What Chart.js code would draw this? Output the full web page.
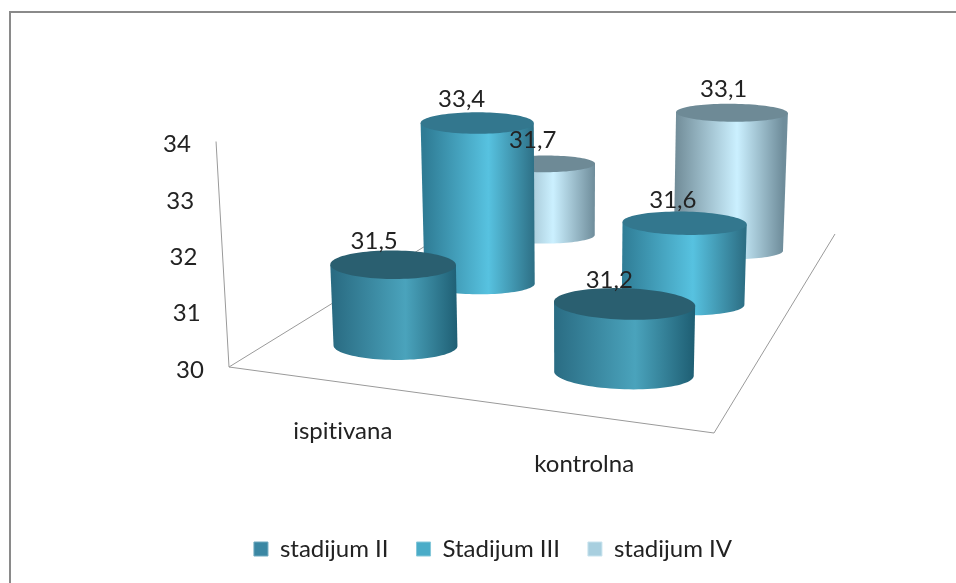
<!DOCTYPE html>
<html>
<head>
<meta charset="utf-8">
<title>stadijum</title>
<script src="https://cdn.jsdelivr.net/npm/chart.js@4"></script>
<style>
  html, body { margin: 0; padding: 0; background: #fff; }
  canvas { display: block; }
</style>
</head>
<body>
<canvas id="chart" width="956" height="583"></canvas>
<script>
const categories = ['ispitivana', 'kontrolna'];
const seriesNames = ['stadijum II', 'Stadijum III', 'stadijum IV'];
const stadijum2 = [31.5, 31.2];
const stadijum3 = [33.4, 31.6];
const stadijum4 = [31.7, 33.1];
const legendColors = ['#3b87a3', '#4aacc8', '#a8cfdf'];

// floor of the 3D box on screen: front left, front right, back right, back left
const floorA = [229, 367], floorB = [714, 433], floorC = [835, 234], floorD = [487, 208];
const radiusU = 0.14, radiusV = 0.06;
const shiftU = 0.016, shiftV = -0.003;
const leanX = 571, leanD = 5950;
const heightK = 0.99;
const untilt = 0.05;

const sideStops = [
    ['#2a6c83', '#4aa3bc', '#1f5f74'],
    ['#2f7c95', '#57c2e0', '#2d6f85'],
    ['#6f8a96', '#cbf0ff', '#6f8d9b'],
];
const topColors = ['#2a5f70', '#33778e', '#6e8a96'];
const textFont = '24px Lato';
const textColor = '#222';

// unit square -> screen, perspective
function makeFloor() {
    const dx1 = floorB[0] - floorC[0], dx2 = floorD[0] - floorC[0];
    const dy1 = floorB[1] - floorC[1], dy2 = floorD[1] - floorC[1];
    const sx = floorA[0] - floorB[0] + floorC[0] - floorD[0];
    const sy = floorA[1] - floorB[1] + floorC[1] - floorD[1];
    const det = dx1 * dy2 - dx2 * dy1;
    const g = (sx * dy2 - dx2 * sy) / det;
    const h = (dx1 * sy - sx * dy1) / det;
    const a = floorB[0] - floorA[0] + g * floorB[0];
    const b = floorD[0] - floorA[0] + h * floorD[0];
    const d = floorB[1] - floorA[1] + g * floorB[1];
    const e = floorD[1] - floorA[1] + h * floorD[1];
    return (u, v) => {
        const w = g * u + h * v + 1;
        return { x: (a * u + b * v + floorA[0]) / w, y: (d * u + e * v + floorA[1]) / w, w };
    };
}
const floor = makeFloor();

function lift(p, h) {
    return { x: p.x + (p.x - leanX) * h / leanD, y: p.y - h };
}

function tracePoints(ctx, pts) {
    pts.forEach((p, i) => (i ? ctx.lineTo(p.x, p.y) : ctx.moveTo(p.x, p.y)));
}

function drawCylinder(ctx, yScale, u, v, value, row) {
    const center = floor(u, v);
    const h = (yScale.getPixelForValue(30) - yScale.getPixelForValue(value)) * heightK / center.w;
    const base = [];
    for (let i = 0; i < 96; i++) {
        const t = i / 96 * Math.PI * 2;
        const p = floor(u + radiusU * Math.cos(t), v + radiusV * Math.sin(t));
        base.push({ x: p.x, y: p.y - untilt * (p.x - center.x) });
    }
    const top = base.map(p => lift(p, h));
    let iMin = 0, iMax = 0;
    base.forEach((p, i) => {
        if (p.x < base[iMin].x) iMin = i;
        if (p.x > base[iMax].x) iMax = i;
    });
    // walk both ways round the base, keep the arc nearer the viewer
    const arcA = [], arcB = [];
    for (let i = iMin; ; i = (i + 1) % 96) { arcA.push(base[i]); if (i === iMax) break; }
    for (let i = iMin; ; i = (i + 95) % 96) { arcB.push(base[i]); if (i === iMax) break; }
    const mean = arr => arr.reduce((s, p) => s + p.y, 0) / arr.length;
    const lower = mean(arcA) > mean(arcB) ? arcA : arcB;

    const grad = ctx.createLinearGradient(base[iMin].x, 0, base[iMax].x, 0);
    grad.addColorStop(0, sideStops[row][0]);
    grad.addColorStop(0.58, sideStops[row][1]);
    grad.addColorStop(1, sideStops[row][2]);
    ctx.beginPath();
    tracePoints(ctx, [top[iMin]].concat(lower, [top[iMax]]));
    ctx.closePath();
    ctx.fillStyle = grad;
    ctx.fill();

    ctx.beginPath();
    tracePoints(ctx, top);
    ctx.closePath();
    ctx.fillStyle = topColors[row];
    ctx.fill();

    const topCenter = lift(center, h);
    return {
        x: topCenter.x - 22 + 8 * u + 10 * v,
        y: topCenter.y - 23,
        text: value.toFixed(1).replace('.', ','),
    };
}

const cylinders3d = {
    id: 'cylinders3d',
    beforeDraw(chart) {
        const { ctx } = chart;
        ctx.save();
        ctx.strokeStyle = '#8a8a8a';
        ctx.lineWidth = 2;
        ctx.beginPath();
        ctx.moveTo(10, 583);
        ctx.lineTo(10, 12);
        ctx.lineTo(956, 12);
        ctx.stroke();
        ctx.restore();
    },
    beforeDatasetsDraw(chart) {
        const { ctx, scales, chartArea } = chart;
        const yScale = scales.y, xScale = scales.x;
        ctx.save();

        // box outline
        const wallTop = lift({ x: floorA[0], y: floorA[1] }, yScale.getPixelForValue(30) - yScale.getPixelForValue(34));
        ctx.strokeStyle = '#9a9a9a';
        ctx.lineWidth = 1;
        ctx.beginPath();
        ctx.moveTo(wallTop.x, wallTop.y);
        ctx.lineTo(floorA[0], floorA[1]);
        ctx.lineTo(floorB[0], floorB[1]);
        ctx.lineTo(floorC[0], floorC[1]);
        ctx.moveTo(floorA[0], floorA[1]);
        ctx.lineTo(floorD[0], floorD[1]);
        ctx.stroke();

        ctx.font = textFont;
        ctx.fillStyle = textColor;
        ctx.textAlign = 'center';
        ctx.textBaseline = 'middle';

        // value axis, the labels follow the slanted wall
        yScale.ticks.forEach(tick => {
            const py = yScale.getPixelForValue(tick.value);
            const p = lift({ x: floorA[0], y: floorA[1] }, yScale.getPixelForValue(30) - py);
            ctx.fillText(tick.label, p.x - 39, py + 1);
        });

        // category labels under the front edge
        ctx.letterSpacing = '0.01px';
        categories.forEach((name, c) => {
            const u = (xScale.getPixelForValue(c) - chartArea.left) / chartArea.width;
            const p = floor(u, 0);
            ctx.fillText(name, p.x + 6, p.y + 50);
        });
        ctx.letterSpacing = '0px';

        // back row first
        const labels = [];
        for (let row = chart.data.datasets.length - 1; row >= 0; row--) {
            const v = (row + 0.5) / chart.data.datasets.length + shiftV;
            chart.data.datasets[row].data.forEach((value, c) => {
                const u = (xScale.getPixelForValue(c) - chartArea.left) / chartArea.width + shiftU;
                labels.push(drawCylinder(ctx, yScale, u, v, value, row));
            });
        }
        ctx.font = textFont;
        ctx.fillStyle = textColor;
        labels.forEach(l => ctx.fillText(l.text, l.x, l.y));
        ctx.restore();
        return false;
    },
};

new Chart(document.getElementById('chart'), {
    type: 'bar',
    data: {
        labels: categories,
        datasets: [
            { label: seriesNames[0], data: stadijum2, backgroundColor: legendColors[0], borderColor: '#6fa9bf', borderWidth: 1 },
            { label: seriesNames[1], data: stadijum3, backgroundColor: legendColors[1], borderColor: '#86c8da', borderWidth: 1 },
            { label: seriesNames[2], data: stadijum4, backgroundColor: legendColors[2], borderColor: '#c8e3ee', borderWidth: 1 },
        ],
    },
    options: {
        responsive: false,
        animation: false,
        layout: { padding: { left: 30, right: 0, top: 143.5, bottom: 12 } },
        scales: {
            x: {
                grid: { display: false },
                border: { display: false },
                ticks: { display: false },
                afterFit: s => { s.height = 140; },
            },
            y: {
                min: 30,
                max: 34,
                grid: { display: false },
                border: { display: false },
                ticks: { display: false, stepSize: 1 },
                afterFit: s => { s.width = 100; },
            },
        },
        plugins: {
            tooltip: { enabled: false },
            legend: {
                position: 'bottom',
                labels: {
                    boxWidth: 14,
                    boxHeight: 14,
                    padding: 28,
                    color: textColor,
                    font: { family: 'Lato', size: 24 },
                },
            },
        },
    },
    plugins: [cylinders3d],
});
</script>
</body>
</html>
